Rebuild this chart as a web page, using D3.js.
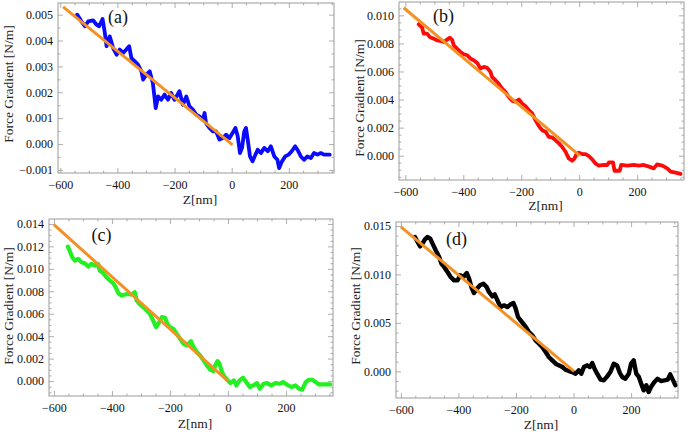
<!DOCTYPE html>
<html><head><meta charset="utf-8">
<script src="https://cdn.jsdelivr.net/npm/d3@7"></script>
<style>
body{margin:0;background:#fff;}
svg{display:block;}
svg text{font-family:"Liberation Serif","Times New Roman",serif;}
</style></head>
<body><svg id="c" width="689" height="434"></svg>
<script>
// ---------- DATA ----------
const xTicks = [-600, -400, -200, 0, 200];
const yTicksA = [-0.001, 0, 0.001, 0.002, 0.003, 0.004, 0.005];
const yTicksB = [0, 0.002, 0.004, 0.006, 0.008, 0.010];
const yTicksC = [0, 0.002, 0.004, 0.006, 0.008, 0.010, 0.012, 0.014];
const yTicksD = [0, 0.005, 0.010, 0.015];

// (a) blue
const zA = [-541,-526,-514,-502,-485,-473,-464,-452,-444,-438,-427,-415,-403,-392,-380,-369,-359,-351,-340,-328,-316,-310,-299,-287,-281,-276,-266,-258,-247,-235,-223,-212,-200,-183,-171,-159,-148,-136,-124,-113,-101,-95,-90,-78,-66,-55,-43,-31,-20,-8,3,13,21,29,36,44,50,56,64,73,83,91,102,114,126,137,149,160,166,176,187,199,210,222,230,242,253,265,277,288,300,312,323,335,343];
const vA = [0.0050,0.00474,0.00455,0.00474,0.00478,0.00461,0.00455,0.00483,0.00429,0.00378,0.00416,0.00371,0.00345,0.00365,0.00352,0.00365,0.00378,0.00332,0.00320,0.00307,0.00281,0.00249,0.00268,0.00281,0.00255,0.00236,0.00139,0.00184,0.00171,0.00191,0.00171,0.00197,0.00171,0.00204,0.00152,0.00184,0.00146,0.00133,0.00113,0.00107,0.00094,0.00120,0.00081,0.00062,0.00049,0.00049,0.00017,0.00023,0.00036,0.00023,0.00043,0.00062,0.00030,-0.00035,-0.00015,0.00049,0.00062,0.00017,-0.00048,-0.00067,-0.00041,-0.00022,-0.00035,-0.00015,-0.00028,-0.00009,-0.00048,-0.00061,-0.00093,-0.00067,-0.00048,-0.00041,-0.00028,-0.00009,-0.00022,-0.00048,-0.00061,-0.00048,-0.00054,-0.00035,-0.00041,-0.00035,-0.00041,-0.00041,-0.00041];
const fitZA = [-590, 3];
const fitVA = [0.00530, -0.00003];

// (b) red
const zB = [-554,-542,-537,-525,-516,-502,-491,-479,-468,-456,-447,-439,-433,-422,-410,-398,-387,-375,-364,-352,-341,-329,-318,-306,-301,-289,-278,-266,-255,-243,-231,-220,-208,-197,-185,-174,-162,-151,-139,-128,-116,-105,-93,-82,-70,-59,-47,-36,-24,-16,-9,-1,10,22,33,45,56,68,85,97,103,117,122,140,145,166,189,206,223,241,258,269,287,304,316,333,350];
const vB = [0.00936,0.00912,0.00870,0.00870,0.00846,0.00834,0.00822,0.00818,0.00810,0.00827,0.00841,0.00827,0.00787,0.00763,0.00739,0.00723,0.00716,0.00692,0.00680,0.00661,0.00621,0.00633,0.00626,0.00597,0.00562,0.00538,0.00514,0.00479,0.00455,0.00419,0.00391,0.00384,0.00400,0.00372,0.00353,0.00325,0.00301,0.00254,0.00211,0.00182,0.00171,0.00135,0.00130,0.00111,0.00088,0.00064,0.00028,-0.00019,-0.00036,-0.00019,0.00012,0.00021,0.00012,0.00012,-0.00002,-0.00026,-0.00055,-0.00071,-0.00066,-0.00066,-0.00047,-0.00047,-0.00107,-0.00107,-0.00066,-0.00071,-0.00066,-0.00071,-0.00066,-0.00078,-0.00090,-0.00062,-0.00071,-0.00090,-0.00114,-0.00121,-0.00130];
const fitZB = [-606, 2];
const fitVB = [0.01054, 0.0];

// (c) green
const zC = [-552,-546,-537,-528,-517,-505,-494,-482,-471,-459,-448,-442,-430,-419,-407,-396,-387,-378,-367,-355,-344,-332,-321,-315,-303,-292,-280,-269,-257,-248,-240,-228,-217,-208,-200,-188,-177,-165,-153,-142,-128,-119,-107,-96,-84,-73,-61,-50,-44,-36,-29,-21,-13,-3,8,20,29,40,52,63,75,87,100,110,123,135,149,164,179,190,204,218,233,245,256,268,279,291,302,314,331,352];
const vC = [0.01198,0.01163,0.01103,0.01074,0.01089,0.01059,0.01050,0.01020,0.01044,0.01029,0.01044,0.00985,0.00961,0.00925,0.00896,0.00872,0.00836,0.00783,0.00762,0.00771,0.00777,0.00771,0.00792,0.00718,0.00682,0.00658,0.00629,0.00599,0.00534,0.00481,0.00510,0.00570,0.00564,0.00504,0.00481,0.00466,0.00421,0.00377,0.00332,0.00317,0.00356,0.00303,0.00258,0.00228,0.00184,0.00139,0.00101,0.00089,0.00139,0.00178,0.00154,0.00080,0.00042,0.00012,-0.00018,0.00006,-0.00039,0.00006,0.00030,-0.00009,-0.00053,-0.00039,-0.00018,-0.00068,-0.00024,-0.00018,-0.00039,-0.00018,-0.00024,-0.00009,-0.00033,-0.00053,-0.00039,-0.00068,-0.00077,-0.00009,0.00012,0.00012,-0.00009,-0.00030,-0.00030,-0.00030];
const fitZC = [-600, 0];
const fitVC = [0.01394, 0.0];

// (d) black
const zD = [-551,-542,-533,-525,-517,-508,-498,-490,-479,-467,-459,-450,-438,-427,-415,-403,-394,-383,-371,-363,-355,-346,-336,-325,-313,-302,-294,-282,-274,-262,-253,-242,-230,-218,-209,-201,-193,-184,-175,-166,-155,-143,-132,-120,-109,-97,-86,-74,-62,-51,-39,-28,-16,-5,7,18,27,36,47,57,65,73,82,94,105,117,128,140,151,161,169,180,192,200,209,218,227,235,244,253,261,269,281,292,304,316,327,336,346,354];
const vD = [0.01386,0.01335,0.01290,0.01318,0.01359,0.01386,0.01369,0.01318,0.01249,0.01180,0.01111,0.01077,0.01025,0.00974,0.00939,0.00939,0.00991,0.00974,0.01015,0.00956,0.00870,0.00808,0.00853,0.00888,0.00905,0.00870,0.00819,0.00774,0.00795,0.00716,0.00664,0.00681,0.00664,0.00692,0.00705,0.00647,0.00561,0.00526,0.00492,0.00458,0.00406,0.00372,0.00320,0.00286,0.00251,0.00200,0.00148,0.00114,0.00079,0.00062,0.00045,0.00017,0.00003,-0.00007,-0.00024,0.00010,-0.00024,0.00045,0.00062,0.00045,0.00086,0.00028,-0.00024,-0.00086,-0.00093,-0.00052,-0.00007,0.00079,0.00062,-0.00017,-0.00058,-0.00076,-0.00024,0.00079,0.00114,-0.00024,-0.00058,-0.00127,-0.00196,-0.00144,-0.00213,-0.00162,-0.00110,-0.00076,-0.00100,-0.00093,-0.00086,-0.00031,-0.00093,-0.00144];
const fitZD = [-600, 2];
const fitVD = [0.0149, 0.0];

const panelLabels = ["(a)", "(b)", "(c)", "(d)"];
const xLabel = "Z[nm]";
const yLabel = "Force Gradient [N/m]";

// ---------- LAYOUT ----------
const panels = [
  {z:zA, v:vA, fz:fitZA, fv:fitVA, color:"#0a0aff", sw:3.8, yt:yTicksA, yMinorStep:0.0005, fmt:d3.format(".3f"),
   x0:58, x1:334, y0:3, y1:173, xd:[-608,358], yd:[-0.00112,0.00545], lab:[-398,0.00468],
   yLabX:9, yLabY:84, xLabY:204},
  {z:zB, v:vB, fz:fitZB, fv:fitVB, color:"#ff0a0a", sw:3.8, yt:yTicksB, yMinorStep:0.0005, fmt:d3.format(".3f"),
   x0:399, x1:684, y0:2, y1:180, xd:[-622,362], yd:[-0.00173,0.01095], lab:[-468,0.00953],
   yLabX:360, yLabY:98, xLabY:210},
  {z:zC, v:vC, fz:fitZC, fv:fitVC, color:"#22f022", sw:4.2, yt:yTicksC, yMinorStep:0.0005, fmt:d3.format(".3f"),
   x0:49, x1:333, y0:219, y1:396, xd:[-617,362], yd:[-0.00133,0.01444], lab:[-436,0.01252],
   yLabX:9, yLabY:306, xLabY:428},
  {z:zD, v:vD, fz:fitZD, fv:fitVD, color:"#000000", sw:4.4, yt:yTicksD, yMinorStep:0.001, fmt:d3.format(".3f"),
   x0:396, x1:678, y0:222, y1:398, xd:[-617,363], yd:[-0.00275,0.01541], lab:[-407,0.0130],
   yLabX:356, yLabY:306, xLabY:429}
];

const svg = d3.select("#c");
const minus = s => s.replace(/-/g, "\u2212");
const frameCol = "#9a9a9a";
const serif = "Liberation Serif, Times New Roman, serif";

panels.forEach((p, i) => {
  const x = d3.scaleLinear().domain(p.xd).range([p.x0, p.x1]);
  const y = d3.scaleLinear().domain(p.yd).range([p.y1, p.y0]);
  const g = svg.append("g");

  const cid = "clip" + i;
  svg.append("clipPath").attr("id", cid).append("rect")
    .attr("x", p.x0).attr("y", p.y0).attr("width", p.x1 - p.x0).attr("height", p.y1 - p.y0);

  const xMinor = d3.range(-600, 351, 50).filter(t => !xTicks.includes(t) && t > p.xd[0] && t < p.xd[1]);
  const yMinor = d3.range(Math.ceil(p.yd[0]/p.yMinorStep), Math.floor(p.yd[1]/p.yMinorStep)+1)
    .map(k => +(k*p.yMinorStep).toFixed(6)).filter(t => !p.yt.some(m => Math.abs(m - t) < 1e-9));

  const styleAxis = sel => {
    sel.attr("font-family", serif).attr("font-size", 12);
    sel.select(".domain").remove();
    sel.selectAll("line").attr("stroke", frameCol).attr("stroke-width", 0.8);
    sel.selectAll("text").attr("fill", "#111");
  };

  g.append("g").attr("transform", `translate(0,${p.y1})`)
    .call(d3.axisBottom(x).tickValues(xTicks).tickSize(-5).tickPadding(7).tickFormat(d => minus(String(d))))
    .call(styleAxis);
  g.append("g").attr("transform", `translate(0,${p.y1})`)
    .call(d3.axisBottom(x).tickValues(xMinor).tickSize(-2.5).tickFormat(""))
    .call(styleAxis);
  g.append("g").attr("transform", `translate(0,${p.y0})`)
    .call(d3.axisTop(x).tickValues(xTicks).tickSize(-5).tickFormat(""))
    .call(styleAxis);
  g.append("g").attr("transform", `translate(0,${p.y0})`)
    .call(d3.axisTop(x).tickValues(xMinor).tickSize(-2.5).tickFormat(""))
    .call(styleAxis);
  g.append("g").attr("transform", `translate(${p.x0},0)`)
    .call(d3.axisLeft(y).tickValues(p.yt).tickSize(-5).tickPadding(5).tickFormat(d => minus(p.fmt(d))))
    .call(styleAxis);
  g.append("g").attr("transform", `translate(${p.x0},0)`)
    .call(d3.axisLeft(y).tickValues(yMinor).tickSize(-2.5).tickFormat(""))
    .call(styleAxis);
  g.append("g").attr("transform", `translate(${p.x1},0)`)
    .call(d3.axisRight(y).tickValues(p.yt).tickSize(-5).tickFormat(""))
    .call(styleAxis);
  g.append("g").attr("transform", `translate(${p.x1},0)`)
    .call(d3.axisRight(y).tickValues(yMinor).tickSize(-2.5).tickFormat(""))
    .call(styleAxis);

  const pts = p.z.map((zz, k) => [zz, p.v[k]]);
  const line = d3.line().x(d => x(d[0])).y(d => y(d[1]));
  g.append("path").datum(pts).attr("d", line).attr("clip-path", `url(#${cid})`)
    .attr("fill", "none").attr("stroke", p.color).attr("stroke-width", p.sw)
    .attr("stroke-linejoin", "round").attr("stroke-linecap", "round");

  const fpts = p.fz.map((zz, k) => [zz, p.fv[k]]);
  g.append("path").datum(fpts).attr("d", line).attr("clip-path", `url(#${cid})`)
    .attr("fill", "none").attr("stroke", "#f39124").attr("stroke-width", 3);

  g.append("rect").attr("x", p.x0).attr("y", p.y0).attr("width", p.x1 - p.x0).attr("height", p.y1 - p.y0)
    .attr("fill", "none").attr("stroke", frameCol).attr("stroke-width", 1);

  g.append("text").attr("x", x(p.lab[0])).attr("y", y(p.lab[1])).attr("text-anchor", "middle")
    .attr("font-family", serif).attr("font-size", 18).attr("fill", "#111").text(panelLabels[i]);

  g.append("text").attr("x", (p.x0 + p.x1) / 2 + 4).attr("y", p.xLabY).attr("text-anchor", "middle")
    .attr("font-family", serif).attr("font-size", 13.5).attr("fill", "#222").text(xLabel);
  g.append("text").attr("transform", `translate(${p.yLabX + 4},${p.yLabY}) rotate(-90)`)
    .attr("text-anchor", "middle").attr("font-family", serif).attr("font-size", 13.5)
    .attr("fill", "#222").text(yLabel);
});
</script></body></html>
